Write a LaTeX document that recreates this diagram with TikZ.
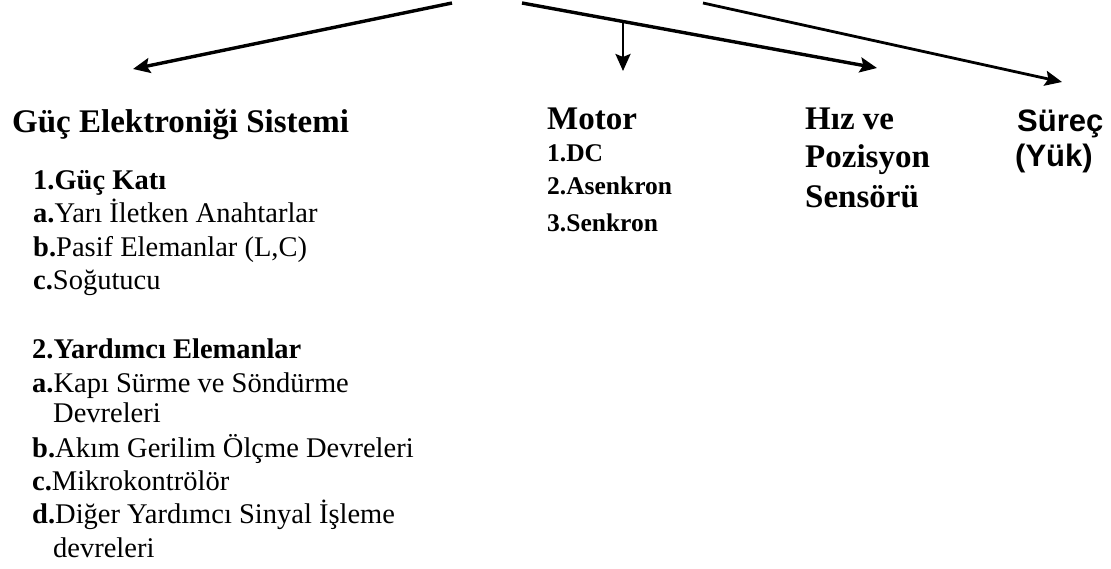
\documentclass[tikz,border=0pt]{standalone}
\usepackage{fontspec}
\setmainfont{Liberation Serif}
\newfontfamily\arialfont{Liberation Sans}
\usetikzlibrary{arrows.meta}
\begin{document}
\begin{tikzpicture}[x=1pt,y=-1pt,
  head/.style={anchor=base west, inner sep=0pt, font=\fontsize{33}{39}\selectfont\bfseries},
  sub/.style={anchor=base west, inner sep=0pt, font=\fontsize{25.5}{30}\selectfont\bfseries},
  item/.style={anchor=base west, inner sep=0pt, font=\fontsize{28.5}{33}\selectfont},
  bitem/.style={item, font=\fontsize{28.5}{33}\selectfont\bfseries},
  sans/.style={anchor=base west, inner sep=0pt, font=\fontsize{31}{37}\selectfont\arialfont\bfseries},
  arr/.style={-{Stealth[length=17pt,width=15pt,inset=3pt]}, line width=3.4pt},
]
\useasboundingbox (0,0) rectangle (1111,569);
% arrow end points
\coordinate (s1) at (452,3);
\coordinate (e1) at (133,69);
\coordinate (s2) at (522,3);
\coordinate (e2) at (877,68);
\coordinate (j2) at (623,21.5);
\coordinate (e4) at (623,71);
\coordinate (s3) at (703,3);
\coordinate (e3) at (1062,82);
\draw[arr] (s1) -- (e1);
\draw[arr] (s2) -- (e2);
\draw[arr, line width=2.6pt] (j2) -- (e4);
\draw[arr, line width=2.8pt] (s3) -- (e3);
% left column
\node[head] (ges) at (12,133) {Güç Elektroniği Sistemi};
\node[bitem] (gk) at (33,190) {1.Güç Katı};
\node[item] (ga) at (33,223) {\textbf{a.}Yarı İletken Anahtarlar};
\node[item] (gb) at (33,257) {\textbf{b.}Pasif Elemanlar (L,C)};
\node[item] (gc) at (33,290) {\textbf{c.}Soğutucu};
\node[bitem] (ye) at (32,358) {2.Yardımcı Elemanlar};
\node[item] (ya) at (32,392) {\textbf{a.}Kapı Sürme ve Söndürme};
\node[item] (ya2) at (53,422) {Devreleri};
\node[item] (yb) at (32,457) {\textbf{b.}Akım Gerilim Ölçme Devreleri};
\node[item] (yc) at (32,490) {\textbf{c.}Mikrokontrölör};
\node[item] (yd) at (32,523) {\textbf{d.}Diğer Yardımcı Sinyal İşleme};
\node[item] (yd2) at (53,557) {devreleri};
% motor
\node[head] (mot) at (547,130) {Motor};
\node[sub] (m1) at (547,162) {1.DC};
\node[sub] (m2) at (547,195) {2.Asenkron};
\node[sub] (m3) at (547,232) {3.Senkron};
% sensor
\node[head] (h1) at (805,130) {Hız ve};
\node[head] (h2) at (805,168) {Pozisyon};
\node[head] (h3) at (805,208) {Sensörü};
% process
\node[sans] (p1) at (1017,132) {Süreç};
\node[sans] (p2) at (1015,167) {(Yük)};
\end{tikzpicture}
\end{document}
